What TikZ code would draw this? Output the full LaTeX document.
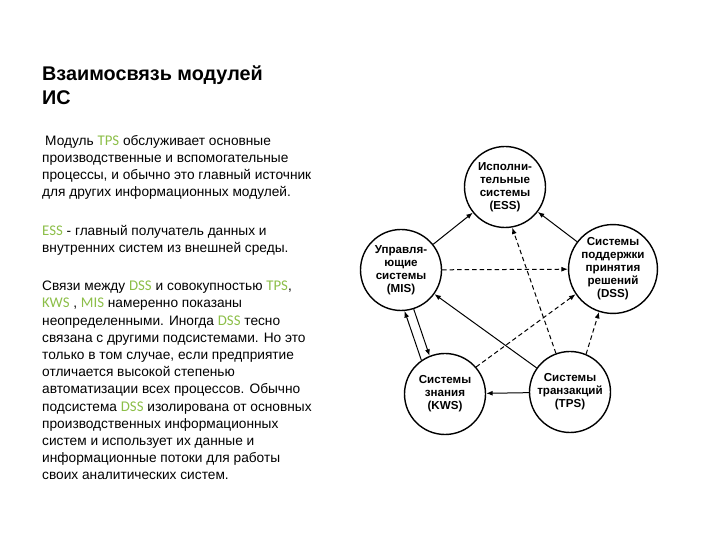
\documentclass[tikz,border=0pt]{standalone}
\usepackage{fontspec}
\setmainfont{Liberation Sans}
\newfontfamily\abbrfont[Scale=1.08]{Carlito}
\usetikzlibrary{arrows.meta}
\definecolor{leaf}{RGB}{140,190,72}
\newcommand{\ab}[1]{{\abbrfont\color{leaf}#1}}

\begin{document}
\begin{tikzpicture}[x=1pt,y=1pt,
    >={Latex[length=6.5pt,width=5pt]},
    modul/.style={circle,draw,line width=1.4pt,minimum size=81pt,inner sep=0pt,
      align=center,font=\bfseries\fontsize{11.6}{13}\selectfont},
    link/.style={->,line width=1pt},
    dlink/.style={link,dash pattern=on 4.5pt off 3pt},
    para/.style={anchor=north west,inner sep=0pt,align=left,
      font=\fontsize{13.7}{17.2}\selectfont}]
    \useasboundingbox (0,0) rectangle (720,540);

    % title and notes
    \node[anchor=north west,inner sep=0pt,align=left,
      font=\bfseries\fontsize{19.8}{24}\selectfont] (title) at (42,474)
      {Взаимосвязь модулей\\ИС};
    \node[para] (p1) at (42,405)
      {\hspace{3pt}Модуль \ab{TPS} обслуживает основные\\
       производственные и вспомогательные\\
       процессы, и обычно это главный источник\\
       для других информационных модулей.};
    \node[para] (p2) at (42,315)
      {\ab{ESS} - главный получатель данных и\\
       внутренних систем из внешней среды.};
    \node[para] (p3) at (42,259)
      {Связи между \ab{DSS} и совокупностью \ab{TPS},\\
       \ab{KWS} , \ab{MIS} намеренно показаны\\
       неопределенными. Иногда \ab{DSS} тесно\\
       связана с другими подсистемами. Но это\\
       только в том случае, если предприятие\\
       отличается высокой степенью\\
       автоматизации всех процессов. Обычно\\
       подсистема \ab{DSS} изолирована от основных\\
       производственных информационных\\
       систем и использует их данные и\\
       информационные потоки для работы\\
       своих аналитических систем.};

    % modules
    \node[modul] (ess) at (505,353) {Исполни-\\тельные\\системы\\(ESS)};
    \node[modul] (mis) at (401,270) {Управля-\\ющие\\системы\\(MIS)};
    \node[modul] (dss) at (613,271) {Системы\\поддержки\\принятия\\решений\\(DSS)};
    \node[modul] (kws) at (445,146) {Системы\\знания\\(KWS)};
    \node[modul] (tps) at (570,148) {Системы\\транзакций\\(TPS)};

    % links
    \draw[link] (mis) -- (ess);
    \draw[link] (dss) -- (ess);
    \draw[dlink] (mis) -- (dss);
    \draw[dlink] (tps.110) -- (ess.-80);
    \draw[dlink] (kws.41) -- (dss.214);
    \draw[dlink] (tps.67) -- (dss.252);
    \draw[link] (tps) -- (mis);
    \draw[link] (kws.125) -- (mis.-85);
    \draw[link] (mis.-72) -- (kws.112);
    \draw[link] (tps) -- (kws);
\end{tikzpicture}
\end{document}
